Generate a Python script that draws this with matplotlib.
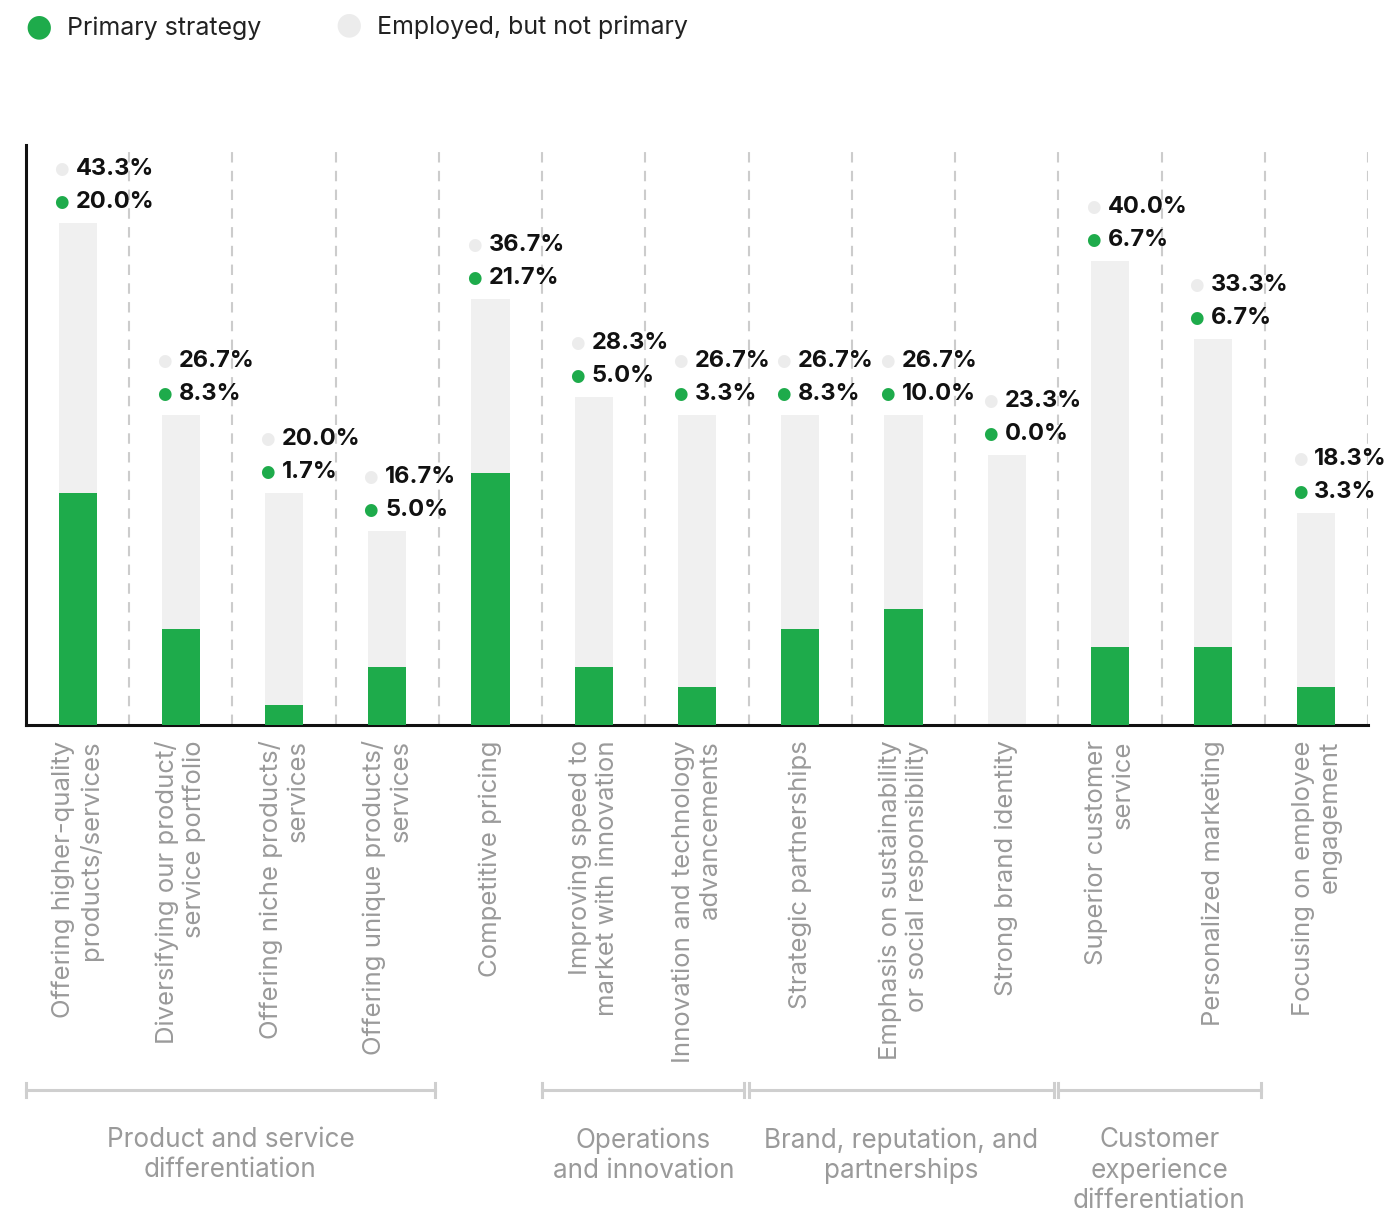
import matplotlib
matplotlib.use('Agg')
import matplotlib.pyplot as plt
from matplotlib.lines import Line2D
import matplotlib.transforms as mtransforms

plt.rcParams['font.family'] = ['Inter', 'DejaVu Sans']

categories = [
    'Offering higher-quality\nproducts/services',
    'Diversifying our product/\nservice portfolio',
    'Offering niche products/\nservices',
    'Offering unique products/\nservices',
    'Competitive pricing',
    'Improving speed to\nmarket with innovation',
    'Innovation and technology\nadvancements',
    'Strategic partnerships',
    'Emphasis on sustainability\nor social responsibility',
    'Strong brand identity',
    'Superior customer\nservice',
    'Personalized marketing',
    'Focusing on employee\nengagement',
]
employed = [43.3, 26.7, 20.0, 16.7, 36.7, 28.3, 26.7, 26.7, 26.7, 23.3, 40.0, 33.3, 18.3]
primary = [20.0, 8.3, 1.7, 5.0, 21.7, 5.0, 3.3, 8.3, 10.0, 0.0, 6.7, 6.7, 3.3]

# (first bar, last bar, label)
groups = [
    (0, 3, 'Product and service\ndifferentiation'),
    (5, 6, 'Operations\nand innovation'),
    (7, 9, 'Brand, reputation, and\npartnerships'),
    (10, 11, 'Customer\nexperience\ndifferentiation'),
]

GREEN = '#1eab4b'
LIGHT = '#f0f0f0'
DOT_LIGHT = '#ececec'
GREY_TXT = '#9a9a9a'

W, H = 1395, 1212
fig = plt.figure(figsize=(W / 100, H / 100), dpi=100)
ax = fig.add_axes([26 / W, 1 - 725 / H, (1368 - 26) / W, (725 - 145) / H])

x = list(range(len(categories)))
ax.bar(x, employed, width=0.37, color=LIGHT, zorder=2)
ax.bar(x, primary, width=0.37, color=GREEN, zorder=3)

for i in x:
    ax.axvline(i + 0.5, color='#cccccc', lw=1.5, dashes=(5, 4), zorder=1)
    top = employed[i]
    for off, val, col in [(54, employed[i], DOT_LIGHT), (21, primary[i], GREEN)]:
        ax.annotate('●', xy=(i - 0.16, top), xytext=(0, off), textcoords='offset pixels',
                    ha='center', va='center', color=col, fontsize=12,
                    family=['DejaVu Sans'], annotation_clip=False)
        ax.annotate(f'{val:.1f}%', xy=(i - 0.02, top), xytext=(0, off), textcoords='offset pixels',
                    ha='left', va='center', color='#111111', fontsize=17,
                    fontweight='bold', annotation_clip=False)

ax.set_xlim(-0.5, 12.5)
ax.set_ylim(0, 50)
ax.set_yticks([])
ax.set_xticks(x)
ax.set_xticklabels(categories, rotation=90, ha='center', va='top',
                   multialignment='right', color=GREY_TXT, fontsize=18.5,
                   linespacing=1.2)
ax.tick_params(axis='x', length=0, pad=11)
for s in ['top', 'right']:
    ax.spines[s].set_visible(False)
ax.spines['left'].set_linewidth(2.2)
ax.spines['bottom'].set_linewidth(2.2)
ax.spines['left'].set_color('#111111')
ax.spines['bottom'].set_color('#111111')

# group brackets below the labels
trans = mtransforms.blended_transform_factory(ax.transData, fig.transFigure)
yb = 1 - 1090 / H
for a, b, label in groups:
    x0, x1 = a - 0.5, b + 0.46
    ax.add_line(Line2D([x0, x1], [yb, yb], transform=trans, color='#cfcfcf', lw=2.2, clip_on=False))
    for xe in (x0, x1):
        ax.add_line(Line2D([xe, xe], [yb - 0.006, yb + 0.006], transform=trans,
                           color='#cfcfcf', lw=2.2, clip_on=False))
    ax.text((x0 + x1) / 2, 1 - 1127 / H, label, transform=trans, ha='center', va='top',
            color=GREY_TXT, fontsize=18.8, linespacing=1.2)

# legend
fig.text(39 / W, 1 - 27 / H, '●', ha='center', va='center', color=GREEN, fontsize=22,
         family=['DejaVu Sans'])
fig.text(67 / W, 1 - 28 / H, 'Primary strategy', ha='left', va='center', color='#222222', fontsize=18)
fig.text(349 / W, 1 - 25 / H, '●', ha='center', va='center', color=DOT_LIGHT, fontsize=22,
         family=['DejaVu Sans'])
fig.text(377 / W, 1 - 27 / H, 'Employed, but not primary', ha='left', va='center', color='#222222', fontsize=18)

fig.savefig('out.png', dpi=100, facecolor='white')
